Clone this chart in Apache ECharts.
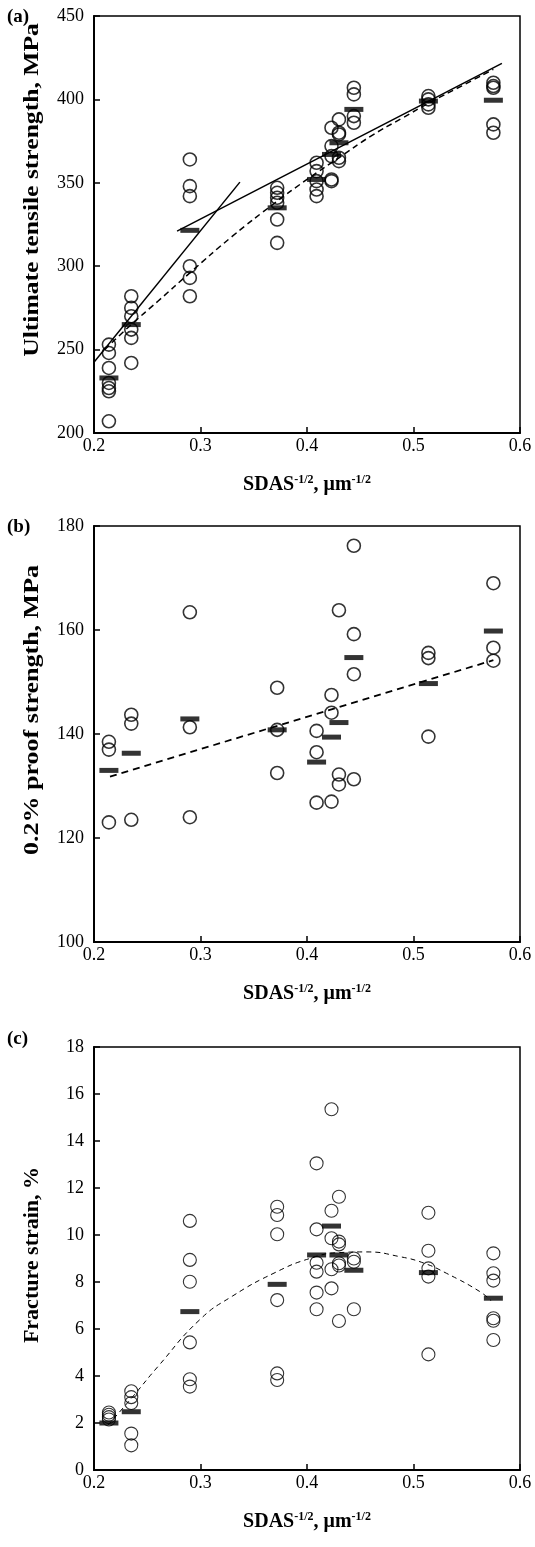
<!DOCTYPE html>
<html><head><meta charset="utf-8">
<script src="https://cdn.jsdelivr.net/npm/echarts@6/dist/echarts.min.js"></script>
<style>html,body{margin:0;padding:0;background:#fff}#c{width:535px;height:1547px}</style>
</head><body><div id="c"></div>
<script>
// ---- data ----
const sdas = [0.214, 0.235, 0.29, 0.372, 0.409, 0.423, 0.43, 0.444, 0.514, 0.575];
const xTicks = [0.2, 0.3, 0.4, 0.5, 0.6];

// (a) Ultimate tensile strength, MPa
const utsPoints = [
  [253, 248, 239, 230, 227, 225, 207],
  [282, 275, 270, 262, 257, 242],
  [364, 348, 342, 300, 293, 282],
  [347, 344, 341, 338, 328, 314],
  [362, 357, 351, 346, 342],
  [383, 372, 366, 352, 351],
  [388, 380, 379, 365, 363],
  [407, 403, 390, 386],
  [402, 400, 397, 395],
  [410, 408, 407, 385, 380]
];
const utsMean = [233, 265, 321.5, 335, 352, 367, 374, 394, 399, 399.5];
const utsFit1 = [[0.199, 241.6], [0.337, 350.4]];
const utsFit2 = [[0.278, 321], [0.583, 421.6]];
const utsCurve = [[0.21, 250], [0.235, 265], [0.26, 279], [0.29, 296], [0.33, 318], [0.37, 338], [0.40, 352], [0.43, 365], [0.46, 378], [0.49, 389], [0.515, 398], [0.545, 408], [0.575, 418]];

// (b) 0.2% proof strength, MPa
const psPoints = [
  [138.5, 137, 123],
  [143.7, 142, 123.5],
  [163.4, 141.3, 124],
  [148.9, 140.8, 132.5],
  [140.6, 136.5, 126.8],
  [147.5, 144.1, 127],
  [163.8, 132.2, 130.3],
  [176.2, 159.2, 151.5, 131.3],
  [155.6, 154.6, 139.5],
  [169, 156.6, 154.1]
];
const psMean = [133, 136.3, 142.9, 140.8, 134.6, 139.4, 142.2, 154.7, 149.7, 159.8];
const psFit = [[0.215, 131.8], [0.575, 154.2]];

// (c) Fracture strain, %
const fsPoints = [
  [2.45, 2.35, 2.25, 2.15],
  [3.35, 3.1, 2.85, 1.55, 1.05],
  [10.6, 8.94, 8.01, 5.43, 3.86, 3.55],
  [11.2, 10.85, 10.03, 7.23, 4.11, 3.83],
  [13.05, 10.24, 8.82, 8.44, 7.55, 6.84],
  [15.35, 11.03, 9.86, 8.54, 7.73],
  [11.63, 9.72, 9.6, 8.8, 8.7, 6.34],
  [9.0, 8.86, 6.84],
  [10.95, 9.33, 8.58, 8.23, 4.92],
  [9.22, 8.37, 8.06, 6.46, 6.35, 5.53]
];
const fsMean = [2.0, 2.48, 6.74, 7.9, 9.15, 10.38, 9.15, 8.5, 8.4, 7.31];
const fsCurve = [[0.213, 1.9], [0.236, 3.1], [0.26, 4.4], [0.2994, 6.4], [0.33, 7.4], [0.37, 8.4], [0.4026, 9.0], [0.43, 9.25], [0.456, 9.28], [0.487, 9.08], [0.51, 8.8], [0.531, 8.37], [0.562, 7.6], [0.573, 7.2]];

// ---- build ----
const serif = 'Liberation Serif';
function pts(groups){ const o=[]; groups.forEach((g,i)=>g.forEach(v=>o.push([sdas[i], v]))); return o; }
function means(m){ return m.map((v,i)=>[sdas[i], v]); }

const grids = [
  {left:94, top:16, width:426, height:417},
  {left:94, top:526, width:426, height:416},
  {left:94, top:1047, width:426, height:423}
].map(g=>Object.assign(g,{show:true, borderColor:'#000', borderWidth:1.5, containLabel:false}));

const xTitle = {
  name: 'SDAS{sup|-1/2}{b|, μm}{sup|-1/2}',
  nameLocation:'middle', nameGap:41,
  nameTextStyle:{fontFamily:serif, fontWeight:'bold', fontSize:20, color:'#000',
    rich:{b:{fontFamily:serif, fontWeight:'bold', fontSize:20, color:'#000'},
          sup:{fontFamily:serif, fontWeight:'bold', fontSize:12, color:'#000', verticalAlign:'top', padding:[0,0,10,0]}}}
};
function xAxis(i){
  return Object.assign({gridIndex:i, type:'value', min:xTicks[0], max:xTicks[xTicks.length-1], interval:0.1,
    axisLine:{lineStyle:{color:'#000', width:2}},
    axisTick:{inside:true, length:6, lineStyle:{color:'#000', width:1.5}},
    axisLabel:{color:'#000', fontFamily:serif, fontSize:18, margin:4, formatter:v=>v.toFixed(1)},
    splitLine:{show:false}}, xTitle);
}
function yAxis(i,min,max,iv){
  return {gridIndex:i, type:'value', min:min, max:max, interval:iv,
    axisLine:{show:true, lineStyle:{color:'#000', width:2}},
    axisTick:{show:true, inside:true, length:6, lineStyle:{color:'#000', width:1.5}},
    axisLabel:{color:'#000', fontFamily:serif, fontSize:18, margin:10},
    splitLine:{show:false}};
}
function circles(i,data,bw){
  return {type:'scatter', xAxisIndex:i, yAxisIndex:i, data:data, symbol:'circle', symbolSize:13, z:3,
    itemStyle:{color:'rgba(0,0,0,0)', borderColor:'#000', borderWidth:bw}};
}
function bars(i,data){
  return {type:'scatter', xAxisIndex:i, yAxisIndex:i, data:data, symbol:'rect', symbolSize:[19,5], z:4,
    itemStyle:{color:'#000'}};
}
function line(i,data,type,w,smooth){
  return {type:'line', xAxisIndex:i, yAxisIndex:i, data:data, showSymbol:false, smooth:!!smooth, z:2,
    lineStyle:{color:'#000', width:w, type:type}};
}
function yTitle(text, y, sx){
  return {type:'text', x:33, y:y, rotation:Math.PI/2, scaleX:sx,
    style:{text:text, font:'bold 20px "Liberation Serif"', fill:'#000', align:'center', verticalAlign:'middle'}};
}

const option = {
  animation:false,
  backgroundColor:'#fff',
  grid: grids,
  xAxis:[xAxis(0), xAxis(1), xAxis(2)],
  yAxis:[yAxis(0,200,450,50), yAxis(1,100,180,20), yAxis(2,0,18,2)],
  series:[
    line(0,utsFit1,'solid',1.5), line(0,utsFit2,'solid',1.5), line(0,utsCurve,[6,4],1.5,true),
    circles(0,pts(utsPoints),1.6), bars(0,means(utsMean)),
    line(1,psFit,[7,5],1.8), circles(1,pts(psPoints),1.6), bars(1,means(psMean)),
    line(2,fsCurve,[5,4],1,true), circles(2,pts(fsPoints),1.1), bars(2,means(fsMean))
  ],
  graphic:[
    {type:'text', left:7, top:8, style:{text:'(a)', font:'bold 19px "Liberation Serif"', fill:'#000'}},
    {type:'text', left:7, top:518, style:{text:'(b)', font:'bold 19px "Liberation Serif"', fill:'#000'}},
    {type:'text', left:7, top:1030, style:{text:'(c)', font:'bold 19px "Liberation Serif"', fill:'#000'}},
    yTitle('Ultimate tensile strength, MPa', 190, 1.28),
    yTitle('0.2% proof strength, MPa', 710, 1.3),
    yTitle('Fracture strain, %', 1255, 1.1)
  ]
};
const chart = echarts.init(document.getElementById('c'), null, {renderer:'canvas'});
chart.setOption(option);
</script></body></html>
